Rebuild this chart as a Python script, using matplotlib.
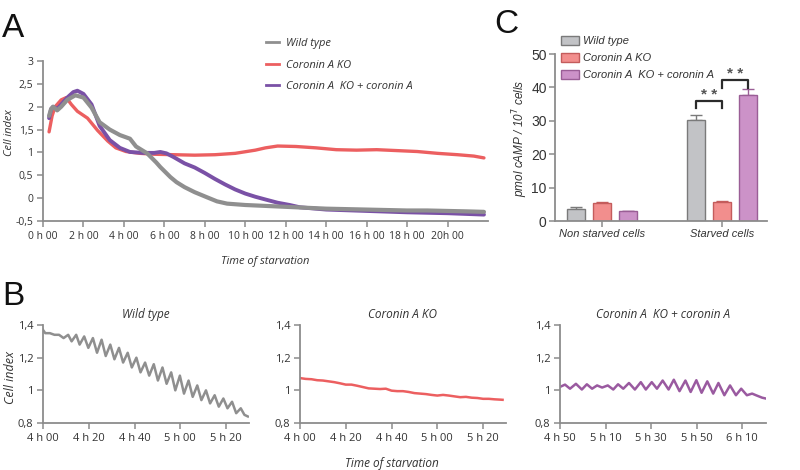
import numpy as np
import matplotlib
matplotlib.use('Agg')
import matplotlib.pyplot as plt
from matplotlib.patches import Patch
from matplotlib.lines import Line2D

# ---- panel A: cell index over 22 h of starvation (hours) ----
wt_t = [0.3, 0.4, 0.5, 0.7, 0.9, 1.2, 1.6, 2.0, 2.4, 2.8, 3.3, 3.8, 4.3, 4.6, 5.15, 5.6, 5.8, 6.3, 6.6, 7.0,
        7.5, 8.1, 8.6, 9.1, 10, 11, 12, 13, 14, 15, 16, 17, 18, 19, 20, 21, 21.8]
wt_v = [1.8, 1.95, 2.0, 1.92, 2.0, 2.15, 2.25, 2.2, 1.98, 1.66, 1.5, 1.38, 1.3, 1.13, 0.98, 0.78, 0.68, 0.46, 0.35, 0.24,
        0.13, 0.02, -0.07, -0.12, -0.15, -0.17, -0.19, -0.21, -0.23, -0.24, -0.25, -0.26, -0.27, -0.27, -0.28, -0.29, -0.3]

ko_t = [0.3, 0.45, 0.6, 0.9, 1.15, 1.4, 1.7, 2.2, 2.7, 3.2, 3.6, 4.1, 4.8, 5.5, 6.5, 7.5, 8.5, 9.5, 10.5, 11.0,
        11.6, 12.5, 13.5, 14.5, 15.5, 16.5, 17.5, 18.5, 19.5, 20.5, 21.3, 21.8]
ko_v = [1.45, 1.8, 2.0, 2.15, 2.2, 2.05, 1.9, 1.75, 1.48, 1.25, 1.1, 1.02, 0.98, 0.96, 0.95, 0.94, 0.95, 0.98, 1.05, 1.1,
        1.14, 1.13, 1.1, 1.06, 1.05, 1.06, 1.04, 1.02, 0.98, 0.95, 0.92, 0.88]

res_t = [0.3, 0.4, 0.5, 0.7, 0.9, 1.2, 1.5, 1.7, 2.0, 2.4, 2.8, 3.3, 3.8, 4.3, 4.95, 5.5, 5.8, 6.1, 6.45, 7.0,
         7.5, 8.0, 8.5, 9.0, 9.5, 10.0, 10.5, 11.0, 11.6, 12.2, 12.7, 14, 16, 18, 20, 21.8]
res_v = [1.75, 1.95, 2.0, 1.95, 2.05, 2.2, 2.32, 2.35, 2.28, 2.05, 1.58, 1.27, 1.1, 1.01, 0.99, 0.99, 1.01, 0.98, 0.9, 0.76,
         0.67, 0.55, 0.42, 0.3, 0.19, 0.1, 0.03, -0.03, -0.1, -0.15, -0.2, -0.25, -0.28, -0.31, -0.33, -0.36]

a_ticks = [0, 2, 4, 6, 8, 10, 12, 14, 16, 18, 20]
a_ticklabels = ['0 h 00', '2 h 00', '4 h 00', '6 h 00', '8 h 00', '10 h 00', '12 h 00', '14 h 00',
                '16 h 00', '18 h 00', '20h 00']
a_yticks = [-0.5, 0, 0.5, 1, 1.5, 2, 2.5, 3]
a_yticklabels = ['-0,5', '0', '0,5', '1', '1,5', '2', '2,5', '3']

# ---- panel B: zoomed traces (minutes) ----
b_wt_t = [240, 241, 243, 245, 247, 249, 251, 252.5, 254.5, 256, 258, 259.8, 261.8, 263.6, 265.6, 267.4, 269.4,
          271.2, 273.2, 275, 277, 278.8, 280.8, 282.6, 284.6, 286.4, 288.4, 290.2, 292.2, 294, 296, 297.8, 299.8,
          301.6, 303.6, 305.4, 307.4, 309.2, 311.2, 313, 315, 316.8, 318.8, 320.6, 322.6, 324.4, 326.4, 328, 329.5]
b_wt_v = [1.37, 1.35, 1.35, 1.34, 1.34, 1.32, 1.34, 1.30, 1.34, 1.28, 1.33, 1.26, 1.32, 1.23, 1.31, 1.21, 1.28,
          1.19, 1.26, 1.17, 1.23, 1.14, 1.20, 1.11, 1.17, 1.09, 1.16, 1.06, 1.14, 1.04, 1.11, 1.00, 1.09,
          0.98, 1.06, 0.96, 1.03, 0.94, 1.00, 0.92, 0.97, 0.90, 0.95, 0.89, 0.93, 0.86, 0.89, 0.85, 0.84]

b_ko_t = [240, 242.5, 245, 247.5, 250, 252.5, 255, 257.5, 260, 262.5, 265, 267.5, 270, 272.5, 275, 277.5, 280,
          282.5, 285, 287.5, 290, 292.5, 295, 297.5, 300, 302.5, 305, 307.5, 310, 312.5, 315, 317.5, 320, 322.5,
          325, 327.5, 328.5]
b_ko_v = [1.075, 1.07, 1.068, 1.062, 1.06, 1.055, 1.05, 1.043, 1.035, 1.035, 1.028, 1.02, 1.012, 1.01, 1.008,
          1.01, 0.998, 0.995, 0.995, 0.99, 0.983, 0.98, 0.977, 0.972, 0.968, 0.972, 0.968, 0.963, 0.958, 0.96,
          0.955, 0.953, 0.948, 0.948, 0.945, 0.943, 0.942]

b_res_t = [290, 292.2, 294.4, 297.0, 299.6, 301.8, 304.1, 306.3, 308.5, 311.0, 313.4, 315.5, 317.8, 320.3, 322.9,
           325.5, 327.7, 330.3, 332.6, 335.1, 337.7, 340.0, 342.5, 345.1, 347.4, 349.9, 352.2, 354.7, 357.3,
           359.6, 362.2, 364.7, 367.3, 369.6, 372.1, 374.4, 376.1, 378.8, 381.0]
b_res_v = [1.021, 1.035, 1.01, 1.04, 1.005, 1.037, 1.01, 1.03, 1.017, 1.03, 1.005, 1.037, 1.01, 1.045, 1.005,
           1.05, 1.005, 1.05, 1.01, 1.06, 1.005, 1.065, 0.995, 1.06, 0.99, 1.062, 0.985, 1.055, 0.98,
           1.045, 0.97, 1.03, 0.97, 1.01, 0.97, 0.98, 0.97, 0.955, 0.948]

b1_ticks = [240, 260, 280, 300, 320]
b1_ticklabels = ['4 h 00', '4 h 20', '4 h 40', '5 h 00', '5 h 20']
b3_ticks = [290, 310, 330, 350, 370]
b3_ticklabels = ['4 h 50', '5 h 10', '5 h 30', '5 h 50', '6 h 10']
b_yticks = [0.8, 1.0, 1.2, 1.4]
b_yticklabels = ['0,8', '1', '1,2', '1,4']

# ---- panel C: cAMP ----
c_groups = ['Non starved cells', 'Starved cells']
c_wt = [3.7, 30.2]
c_wt_err = [0.6, 1.5]
c_ko = [5.4, 5.7]
c_ko_err = [0.3, 0.4]
c_res = [2.9, 37.8]
c_res_err = [0.15, 1.6]

labels = ['Wild type', 'Coronin A KO', 'Coronin A  KO + coronin A']

line_cols = ['#8f8f8f', '#ec5f60', '#7a51a6']
bar_face = ['#c2c3c6', '#f28e8d', '#cc92c8']
bar_edge = ['#7a7a7a', '#c45c5c', '#9a5e96']

txt = '#333333'
spine_col = '#8c8c8c'
font_main = 'Open Sans'
font_c = 'Liberation Sans'

plt.rcParams['font.family'] = [font_main, 'DejaVu Sans']

W, H = 800, 470
fig = plt.figure(figsize=(W / 100, H / 100), dpi=100)


def rect(x0, x1, ytop, ybot):
    return [x0 / W, 1 - ybot / H, (x1 - x0) / W, (ybot - ytop) / H]


def style_axes(ax, lw=1.3, labsize=7.5, family=font_main, pad=3):
    for s in ['top', 'right']:
        ax.spines[s].set_visible(False)
    for s in ['left', 'bottom']:
        ax.spines[s].set_color(spine_col)
        ax.spines[s].set_linewidth(lw)
    ax.tick_params(direction='out', length=4, width=1.1, color=spine_col,
                   labelsize=labsize, labelcolor=txt, pad=pad)
    for lab in ax.get_xticklabels() + ax.get_yticklabels():
        lab.set_family(family)


# ---------------- Panel A ----------------
axA = fig.add_axes(rect(43, 488, 61, 221))
axA.plot(ko_t, ko_v, color=line_cols[1], lw=2.4, solid_capstyle='round')
axA.plot(res_t, res_v, color=line_cols[2], lw=2.8, solid_capstyle='round')
axA.plot(wt_t, wt_v, color=line_cols[0], lw=3.0, solid_capstyle='round')
axA.set_xlim(0, 22)
axA.set_ylim(-0.5, 3)
axA.set_xticks(a_ticks)
axA.set_xticklabels(a_ticklabels)
axA.set_yticks(a_yticks)
axA.set_yticklabels(a_yticklabels)
style_axes(axA)
axA.set_xlabel('Time of starvation', fontstyle='italic', fontsize=8, color=txt, labelpad=10)
fig.text(10 / W, 1 - 133 / H, 'Cell index', rotation=90, ha='center', va='center',
         fontstyle='italic', fontsize=8, color=txt)

handlesA = [Line2D([], [], color=c, lw=2) for c in line_cols]
legA = axA.legend(handlesA, labels, loc='upper left', bbox_to_anchor=(266 / W, 1 - 38 / H),
                  bbox_transform=fig.transFigure, frameon=False, handlelength=1.2,
                  handletextpad=0.6, labelspacing=0.95, borderpad=0, borderaxespad=0,
                  prop={'style': 'italic', 'size': 8})
for t in legA.get_texts():
    t.set_color(txt)

# ---------------- Panel B ----------------
b_specs = [
    (43, b_wt_t, b_wt_v, line_cols[0], labels[0], (240, 330), b1_ticks, b1_ticklabels),
    (300, b_ko_t, b_ko_v, line_cols[1], labels[1], (240, 330), b1_ticks, b1_ticklabels),
    (560, b_res_t, b_res_v, '#9a5aa0', labels[2], (290, 380.5), b3_ticks, b3_ticklabels),
]
axesB = []
for x0, bt, bv, col, title, xl, tk, tl in b_specs:
    ax = fig.add_axes(rect(x0, x0 + 206, 325, 423))
    ax.plot(bt, bv, color=col, lw=1.8, solid_joinstyle='round')
    ax.set_xlim(*xl)
    ax.set_ylim(0.8, 1.4)
    ax.set_xticks(tk)
    ax.set_xticklabels(tl)
    ax.set_yticks(b_yticks)
    ax.set_yticklabels(b_yticklabels)
    style_axes(ax, labsize=8)
    ax.set_title(title, fontstyle='italic', fontsize=8.5, color=txt, pad=5)
    axesB.append(ax)
fig.text(11 / W, 1 - 377 / H, 'Cell index', rotation=90, ha='center', va='center',
         fontstyle='italic', fontsize=9, color=txt)
fig.text(392 / W, 1 - 463 / H, 'Time of starvation', ha='center', va='center',
         fontstyle='italic', fontsize=8.5, color=txt)

# ---------------- Panel C ----------------
axC = fig.add_axes(rect(555, 767, 54, 221))
xg = np.arange(len(c_groups))
offs = [-0.215, 0.0, 0.215]
bw = 0.148
series = [(c_wt, c_wt_err), (c_ko, c_ko_err), (c_res, c_res_err)]
for j, (vals, errs) in enumerate(series):
    xs = xg + offs[j]
    axC.bar(xs, vals, width=bw, color=bar_face[j], edgecolor=bar_edge[j], linewidth=1.0, zorder=2)
    axC.errorbar(xs, vals, yerr=[np.zeros(len(vals)), errs], fmt='none', ecolor=bar_edge[j],
                 elinewidth=1.0, capsize=4.5, capthick=1.0, zorder=1)


# significance brackets (starved group)
def bracket(x1, x2, ylow, ytop, ystar):
    axC.plot([x1, x1, x2, x2], [ylow, ytop, ytop, ylow], color='#2b2b2b', lw=1.6, zorder=3)
    axC.text((x1 + x2) / 2, ystar, '* *', ha='center', va='center', fontsize=11,
             fontweight='bold', color='#555555', family=font_c)


bracket(xg[1] + offs[0], xg[1] + offs[1], 33.8, 35.9, 37.6)
bracket(xg[1] + offs[1], xg[1] + offs[2], 39.8, 42.2, 44.0)

axC.set_xlim(-0.392, 1.375)
axC.set_ylim(0, 50)
axC.set_yticks([0, 10, 20, 30, 40, 50])
axC.set_xticks(xg)
axC.set_xticklabels(c_groups)
style_axes(axC, lw=1.3, labsize=10, family=font_c, pad=2)
for lab in axC.get_xticklabels():
    lab.set_fontstyle('italic')
    lab.set_fontsize(8)
fig.text(520 / W, 1 - 138 / H, r'pmol cAMP / 10$^{7}$ cells', rotation=90, ha='center',
         va='center', fontstyle='italic', fontsize=8.5, color=txt, family=font_c)

handlesC = [Patch(facecolor=bar_face[j], edgecolor=bar_edge[j], linewidth=1.0) for j in range(3)]
legC = axC.legend(handlesC, labels, loc='upper left', bbox_to_anchor=(561 / W, 1 - 36 / H),
                  bbox_transform=fig.transFigure, frameon=False, handlelength=1.6,
                  handleheight=0.85, handletextpad=0.35, labelspacing=0.6, borderpad=0,
                  borderaxespad=0, prop={'style': 'italic', 'size': 8, 'family': font_c})
for t in legC.get_texts():
    t.set_color(txt)

# panel letters
fig.text(2 / W, 1 - 37 / H, 'A', fontsize=24, color='#111111', va='baseline', family=font_c)
fig.text(2 / W, 1 - 305 / H, 'B', fontsize=24, color='#111111', va='baseline', family=font_c)
fig.text(494 / W, 1 - 33 / H, 'C', fontsize=24, color='#111111', va='baseline', family=font_c)

fig.savefig('out.png', dpi=100)
